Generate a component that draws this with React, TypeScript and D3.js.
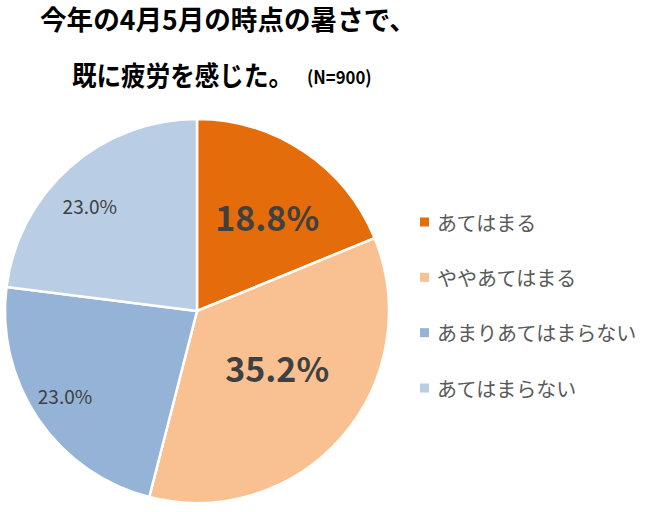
import React from "react";
import * as d3 from "d3";

const categories = ["あてはまる", "ややあてはまる", "あまりあてはまらない", "あてはまらない"];
const values = [18.8, 35.2, 23.0, 23.0];
const colors = ["#E46C0A", "#F9C191", "#95B3D7", "#B9CDE5"];
const labelRadiusFactors = [0.615, 0.51, 0.816, 0.784];
const labelAngleOffsets = [2.6, -6, 1.6, -4];
const labelBold = [true, true, false, false];
const titleLine1 = "今年の4月5月の時点の暑さで、";
const titleLine2 = "既に疲労を感じた。";
const titleNote = "(N=900)";

const W = 650;
const H = 512;
const cx = 197;
const cy = 311;
const R = 192;

export default function App() {
  const pie = d3.pie<number>().sort(null).value((d) => d)(values);
  const arc = d3.arc<d3.PieArcDatum<number>>().innerRadius(0).outerRadius(R);
  const legendY = d3.scaleLinear().domain([0, 3]).range([222, 388]);
  const font = "'Noto Sans CJK JP', 'Noto Sans', sans-serif";
  return (
    <svg width={W} height={H} style={{ position: "absolute", left: 0, top: 0, background: "#fff" }}>
      <rect width={W} height={H} fill="#fff" />
      <text transform="translate(40,30) scale(0.985,1)" fontFamily={font} fontWeight={700} fontSize={27} fill="#000">
        {titleLine1}
      </text>
      <text transform="translate(72,86) scale(0.91,1)" fontFamily={font} fontWeight={700} fontSize={27} fill="#000">
        {titleLine2}
      </text>
      <text transform="translate(307,84) scale(0.93,1)" fontFamily={font} fontWeight={700} fontSize={18} fill="#000">
        {titleNote}
      </text>
      <g transform={`translate(${cx},${cy})`}>
        {pie.map((p, i) => (
          <path key={i} d={arc(p) || ""} fill={colors[i]} stroke="#fff" strokeWidth={2.5} />
        ))}
        {pie.map((p, i) => {
          const lr = R * labelRadiusFactors[i];
          const mid = (p.startAngle + p.endAngle) / 2 + (labelAngleOffsets[i] * Math.PI) / 180;
          const x = lr * Math.sin(mid);
          const y = -lr * Math.cos(mid);
          return (
            <text
              key={"l" + i}
              x={x}
              y={y}
              textAnchor="middle"
              dominantBaseline="central"
              fontFamily={font}
              fontWeight={labelBold[i] ? 700 : 400}
              fontSize={labelBold[i] ? 34 : 19}
              fill="#404040"
            >
              {values[i].toFixed(1)}%
            </text>
          );
        })}
      </g>
      {categories.map((c, i) => (
        <g key={"lg" + i}>
          <rect x={420} y={legendY(i) - 4.5} width={9} height={9} fill={colors[i]} />
          <text
            x={437}
            y={legendY(i)}
            dominantBaseline="central"
            fontFamily={font}
            fontSize={20}
            fill="#595959"
          >
            {c}
          </text>
        </g>
      ))}
    </svg>
  );
}
